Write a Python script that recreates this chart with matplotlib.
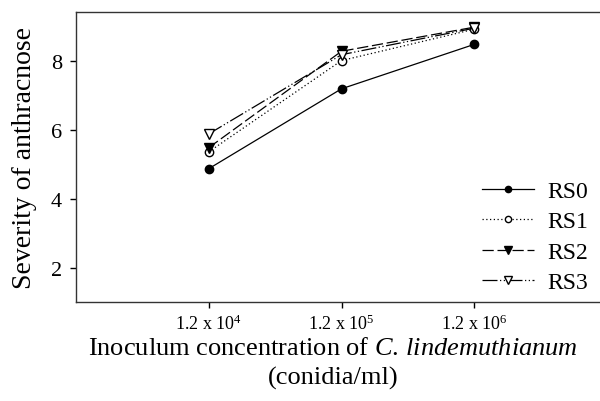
import matplotlib
matplotlib.use("Agg")
import matplotlib.pyplot as plt

plt.rcParams['font.family'] = ['Liberation Serif', 'DejaVu Serif']
plt.rcParams['mathtext.fontset'] = 'custom'
plt.rcParams['mathtext.rm'] = 'Liberation Serif'
plt.rcParams['mathtext.it'] = 'Liberation Serif:italic'

concentrations = [r'1.2 x 10$^{4}$', r'1.2 x 10$^{5}$', r'1.2 x 10$^{6}$']
series_names = ['RS0', 'RS1', 'RS2', 'RS3']
rs0 = [4.87, 7.19, 8.48]
rs1 = [5.36, 8.01, 8.92]
rs2 = [5.48, 8.28, 8.98]
rs3 = [5.88, 8.18, 8.95]
y_ticks = [2, 4, 6, 8]

fig = plt.figure(figsize=(6.0, 4.02), dpi=100)
ax = fig.add_axes([76 / 600, 99 / 402, 531 / 600, 290 / 402])

x = [1, 2, 3]
styles = [
    dict(linestyle='-', marker='o', mfc='black', mec='black', ms=6),
    dict(linestyle=(0, (1, 2)), marker='o', mfc='white', mec='black', ms=6),
    dict(linestyle=(0, (9, 3)), marker='v', mfc='black', mec='black', ms=7),
    dict(linestyle=(0, (12, 2, 1, 2, 1, 2)), marker='v', mfc='white', mec='black', ms=7),
]
for name, vals, st in zip(series_names, [rs0, rs1, rs2, rs3], styles):
    ax.plot(x, vals, color='black', lw=0.9, label=name, **st)

ax.set_xlim(0, 4)
ax.set_ylim(1.0, 9.42)
ax.set_xticks(x)
ax.set_xticklabels(concentrations, fontsize=13)
ax.set_yticks(y_ticks)
ax.set_yticklabels([str(v) for v in y_ticks], fontsize=16)
ax.tick_params(direction='out', length=4.5, width=1, top=False, right=False)
ax.tick_params(axis='y', pad=5.5)
ax.tick_params(axis='x', pad=4)
for sp in ax.spines.values():
    sp.set_color('#333333')
    sp.set_linewidth(1.0)

ax.set_ylabel('Severity of anthracnose', fontsize=20, labelpad=10)
ax.set_xlabel('Inoculum concentration of $\\it{C.\\,lindemuthianum}$\n(conidia/ml)',
              fontsize=19, labelpad=3, linespacing=1.35)
ax.xaxis.label.set_x(0.484)

leg = ax.legend(loc='center left', bbox_to_anchor=(0.746, 0.225), frameon=False,
                fontsize=17, handlelength=2.2, handletextpad=0.6,
                labelspacing=0.38, borderaxespad=0, markerscale=0.75)

fig.savefig('out.png', dpi=100)
